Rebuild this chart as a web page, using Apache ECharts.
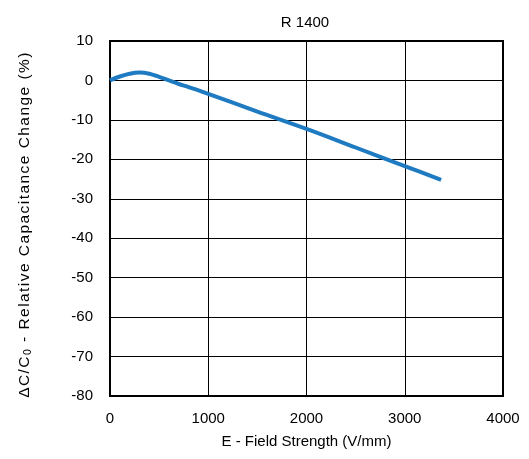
<!DOCTYPE html>
<html><head><meta charset="utf-8">
<script src="https://cdn.jsdelivr.net/npm/echarts@6/dist/echarts.min.js"></script>
<style>html,body{margin:0;padding:0;background:#fff}#c{width:529px;height:459px}</style>
</head><body><div id="c"></div>
<script>
const fieldStrength = [0, 100, 200, 300, 400, 500, 600, 700, 800, 1000, 1500, 2000, 2500, 3000, 3370];
const capChange = [0, 1.0, 1.7, 2.0, 1.7, 0.9, 0.0, -0.9, -1.7, -3.4, -7.9, -12.3, -17.0, -21.7, -25.2];
const xTicks = [0, 1000, 2000, 3000, 4000];
const yTicks = [10, 0, -10, -20, -30, -40, -50, -60, -70, -80];
const titleText = 'R 1400';
const xName = 'E - Field Strength (V/mm)';
const yName = '{n|ΔC/C}{s|0}{n| - Relative Capacitance Change (%)}';

// The reference's vertical axis title is drawn with wider letter spacing;
// apply it only to text drawn at the title's distinctive sizes (15.5px / 10.5px).
(function () {
  const P = CanvasRenderingContext2D.prototype;
  const wrap = (name) => {
    const orig = P[name];
    P[name] = function () {
      if ('letterSpacing' in this) {
        const f = this.font || '';
        const want = (f.indexOf('15.5px') >= 0 || f.indexOf('10.5px') >= 0) ? '1.45px' : '0px';
        if (this.letterSpacing !== want) this.letterSpacing = want;
      }
      return orig.apply(this, arguments);
    };
  };
  wrap('fillText'); wrap('measureText');
})();

const font = 'Liberation Sans, Arial, sans-serif';
const chart = echarts.init(document.getElementById('c'), null, {renderer: 'canvas'});
chart.setOption({
  animation: false,
  title: {text: titleText, left: 300, top: 10, textAlign: 'center',
    textStyle: {fontFamily: font, fontSize: 15, fontWeight: 'normal', color: '#000'}},
  grid: {left: 110, top: 41, right: 26, bottom: 63, show: true, borderColor: '#000', borderWidth: 2, backgroundColor: '#fff'},
  xAxis: {type: 'value', min: xTicks[0], max: xTicks[xTicks.length-1], interval: 1000,
    name: xName, nameLocation: 'middle', nameGap: 38,
    nameTextStyle: {fontFamily: font, fontSize: 15, color: '#000'},
    axisLine: {show: false}, axisTick: {show: false},
    axisLabel: {fontFamily: font, fontSize: 15, color: '#000', margin: 15, formatter: v => String(v)},
    splitLine: {show: true, lineStyle: {color: '#000', width: 1}}},
  yAxis: {type: 'value', min: yTicks[yTicks.length-1], max: yTicks[0], interval: 10,
    name: yName, nameLocation: 'middle', nameGap: 76, nameRotate: 90,
    nameTextStyle: {fontFamily: font, fontSize: 15.5, color: '#000', padding: [0, 12, 0, 0],
      rich: {n: {fontFamily: font, fontSize: 15.5, color: '#000'},
             s: {fontFamily: font, fontSize: 10.5, color: '#000', verticalAlign: 'bottom', padding: [7,0,0,0]}}},
    axisLine: {show: false}, axisTick: {show: false},
    axisLabel: {fontFamily: font, fontSize: 15, color: '#000', margin: 17},
    splitLine: {show: true, lineStyle: {color: '#000', width: 1}}},
  series: [{type: 'line', data: fieldStrength.map((x, i) => [x, capChange[i]]),
    smooth: 0.35, showSymbol: false, lineStyle: {color: '#1f7bc1', width: 4}, z: 5}]
});
</script></body></html>
